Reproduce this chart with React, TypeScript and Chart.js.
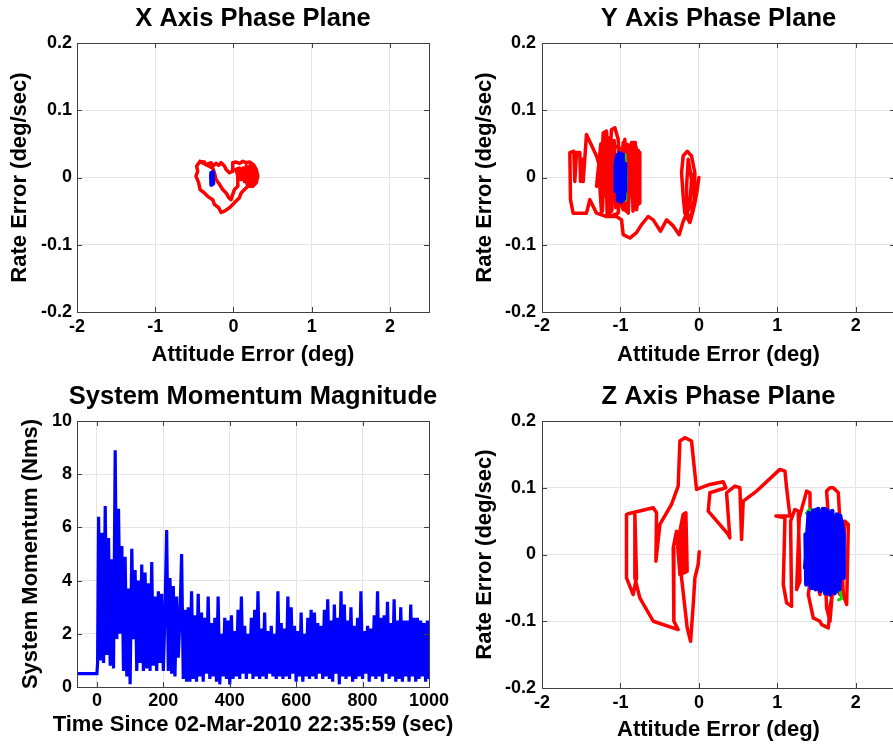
import React, { useEffect, useRef } from 'react';
import { Chart, registerables } from 'chart.js';

Chart.register(...registerables);

type Pair = [number, number];

const FONT = "'Liberation Sans', Arial, Helvetica, sans-serif";
const RED = '#ff0000';
const BLUE = '#0000ff';
const GREEN = '#00e000';
const GRID = '#e4e4e4';

// ---------- tick values ----------
const phaseAttitudeTicks = [-2, -1, 0, 1, 2];
const phaseRateTicks = [-0.2, -0.1, 0, 0.1, 0.2];
const momentumTimeTicks = [0, 200, 400, 600, 800, 1000];
const momentumValueTicks = [0, 2, 4, 6, 8, 10];

// ---------- X axis phase plane ----------
const xPlaneRed: Pair[] = [
  [-0.427, 0.024], [-0.372, 0.023], [-0.35, 0.019], [-0.286, 0.022], [-0.265, 0.017],
  [-0.222, 0.021], [-0.188, 0.018], [-0.158, 0.022], [-0.115, 0.017], [-0.094, 0.012],
  [-0.051, 0.007], [-0.017, 0.009], [-0.009, 0.022], [0.034, 0.023], [0.077, 0.021],
  [0.12, 0.024], [0.162, 0.022], [0.205, 0.023], [0.256, 0.019], [0.291, 0.012],
  [0.312, 0.002], [0.291, -0.008], [0.248, -0.013], [0.184, -0.013], [0.141, -0.018],
  [0.098, -0.023], [0.077, -0.03], [0.034, -0.035], [-0.009, -0.04], [-0.051, -0.045],
  [-0.115, -0.05], [-0.158, -0.052], [-0.188, -0.045], [-0.244, -0.04], [-0.265, -0.033],
  [-0.329, -0.028], [-0.372, -0.023], [-0.427, -0.018], [-0.444, -0.008], [-0.479, 0.002],
  [-0.457, 0.009], [-0.47, 0.017], [-0.427, 0.024],
  [-0.265, 0.014], [-0.244, 0.007], [-0.222, -0.003], [-0.179, -0.01], [-0.137, -0.018],
  [-0.094, -0.023], [-0.06, -0.03], [-0.03, -0.033], [-0.009, -0.025], [0.013, -0.018],
  [0.056, -0.013], [0.056, 0.002], [0.034, 0.012], [0.077, 0.014], [0.098, -0.003],
  [0.12, 0.014], [0.141, -0.006], [0.162, 0.017], [0.184, -0.008], [0.205, 0.017],
  [0.226, -0.008], [0.248, 0.014], [0.269, -0.006], [0.282, 0.009], [0.291, -0.0005],
  [0.27, 0.016], [0.255, -0.012], [0.235, 0.018], [0.215, -0.011], [0.195, 0.016],
  [0.175, -0.01], [0.15, 0.012], [0.2, -0.004], [0.25, 0.008], [0.3, -0.004],
];
const xPlaneBlue: Pair[] = [
  [-0.285, 0.007], [-0.262, 0.008], [-0.258, -0.009], [-0.283, -0.011], [-0.287, 0.004],
  [-0.266, 0.006], [-0.264, -0.006], [-0.28, -0.009], [-0.276, 0.006], [-0.27, -0.008],
];

// ---------- Y axis phase plane ----------
const yPlaneRed: Pair[] = [
  [0.0, 0.0], [-0.021, -0.018], [-0.051, -0.038], [-0.081, -0.053], [-0.115, -0.067],
  [-0.179, -0.053], [-0.2, -0.028], [-0.221, 0.007], [-0.2, 0.032], [-0.149, 0.039],
  [-0.094, 0.032], [-0.051, 0.007], [-0.06, -0.033], [-0.106, -0.063], [-0.149, -0.053],
  [-0.157, -0.013], [-0.136, 0.027], [-0.094, -0.003], [-0.115, -0.043], [-0.2, -0.065],
  [-0.251, -0.085], [-0.327, -0.072], [-0.412, -0.063], [-0.489, -0.08], [-0.582, -0.063],
  [-0.646, -0.058], [-0.731, -0.07], [-0.795, -0.082], [-0.88, -0.09], [-0.965, -0.085],
  [-0.986, -0.063], [-1.05, -0.058], [-1.178, -0.058], [-1.305, -0.053], [-1.39, -0.033],
  [-1.433, -0.053], [-1.603, -0.053], [-1.637, -0.033], [-1.645, 0.037], [-1.594, 0.039],
  [-1.582, -0.006], [-1.56, 0.037], [-1.518, 0.037], [-1.509, -0.006], [-1.484, 0.027],
  [-1.475, -0.006], [-1.433, 0.064], [-1.305, 0.032], [-1.241, 0.007], [-1.22, 0.066],
  [-1.178, 0.069], [-1.144, 0.007], [-1.114, 0.071], [-1.071, 0.074], [-1.029, 0.057],
  [-1.008, -0.033], [-0.965, -0.048], [-0.944, 0.057], [-0.901, -0.053], [-0.859, 0.052],
  [-0.816, 0.052], [-0.795, -0.048], [-0.753, 0.037], [-0.753, -0.038], [-0.838, -0.045],
  [-0.88, 0.047], [-0.965, 0.052], [-1.029, -0.053], [-1.135, -0.058], [-1.178, 0.052],
  [-1.22, 0.047], [-1.241, -0.053], [-1.263, -0.013], [-1.284, 0.007], [-1.305, -0.013],
  [-1.25, 0.05], [-1.23, -0.05], [-1.19, 0.065], [-1.17, -0.055], [-1.13, 0.06],
  [-1.11, -0.05], [-1.08, 0.055], [-1.06, -0.045], [-0.92, 0.045], [-0.9, -0.045],
  [-0.86, 0.05], [-0.84, -0.05], [-0.81, 0.052], [-0.79, -0.045], [-0.77, 0.04],
  [-0.76, -0.035], [-0.8, 0.045], [-0.83, -0.04], [-0.87, 0.048], [-0.93, -0.05],
  [-0.95, 0.04], [-1.12, 0.05], [-1.15, -0.04], [-1.2, 0.055], [-1.22, -0.03],
];
const yPlaneGreen: Pair[] = [[-0.94, 0.034], [-0.924, 0.0], [-0.934, -0.034]];
const yPlaneBlue: Pair[] = [
  [-1.06, 0.02], [-1.04, 0.033], [-1.03, -0.034], [-1.01, 0.036], [-0.99, -0.036],
  [-0.97, 0.034], [-0.955, -0.032], [-0.94, 0.02], [-0.94, -0.02], [-1.062, -0.02],
  [-1.06, 0.02],
];

// ---------- Z axis phase plane ----------
const zPlaneRed: Pair[] = [
  [0.004, 0.004], [-0.009, -0.015], [-0.051, -0.035], [-0.072, -0.075], [-0.106, -0.13],
  [-0.149, -0.11], [-0.221, -0.035], [-0.242, 0.035], [-0.2, 0.06], [-0.166, 0.0625],
  [-0.149, -0.025], [-0.191, -0.0275], [-0.208, 0.05], [-0.179, 0.055], [-0.166, -0.02],
  [-0.242, -0.03], [-0.285, 0.035], [-0.327, 0.01], [-0.319, -0.1], [-0.264, -0.1125],
  [-0.582, -0.1], [-0.753, -0.065], [-0.816, -0.035], [-0.816, 0.06], [-0.795, -0.035],
  [-0.838, -0.06], [-0.923, -0.035], [-0.923, 0.06], [-0.901, 0.061], [-0.582, 0.07],
  [-0.54, 0.0625], [-0.548, -0.01], [-0.497, 0.045], [-0.349, 0.075], [-0.264, 0.1025],
  [-0.242, 0.17], [-0.179, 0.175], [-0.094, 0.17], [-0.03, 0.0975], [0.14, 0.105],
  [0.31, 0.109], [0.344, 0.1], [0.14, 0.0925], [0.119, 0.065], [0.374, 0.03],
  [0.395, 0.025], [0.353, 0.0925], [0.459, 0.1025], [0.523, 0.1], [0.544, 0.0225],
  [0.565, 0.08], [0.736, 0.095], [1.033, 0.1275], [1.097, 0.125], [1.118, 0.1],
  [1.161, 0.0575], [0.982, 0.0575], [1.097, 0.055], [1.076, -0.045], [1.118, -0.0725],
  [1.182, -0.0775], [1.169, 0.05], [1.224, 0.0675], [1.267, 0.065], [1.288, -0.04],
  [1.246, -0.0525], [1.28, 0.055], [1.373, 0.095], [1.416, 0.0925], [1.424, -0.035],
  [1.395, -0.06], [1.458, -0.095], [1.543, -0.1], [1.565, -0.105], [1.65, -0.11],
  [1.671, -0.08], [1.713, -0.05], [1.628, 0.095], [1.671, 0.1], [1.713, 0.1],
  [1.777, 0.0925], [1.798, 0.05], [1.841, -0.06], [1.884, -0.075], [1.905, 0.045],
  [1.862, 0.05], [1.798, -0.06], [1.713, -0.04], [1.671, -0.1], [1.628, -0.08],
  [1.586, 0.05], [1.543, -0.06], [1.501, -0.04],
];
const zPlaneGreen: Pair[] = [
  [1.37, 0.062], [1.41, 0.068], [1.39, 0.05], [1.62, -0.03], [1.8, -0.055],
  [1.82, -0.066], [1.78, -0.068],
];
const zPlaneBlue: Pair[] = [
  [1.36, 0.03], [1.37, -0.045], [1.4, 0.06], [1.43, -0.05], [1.46, 0.066],
  [1.49, -0.052], [1.52, 0.068], [1.55, -0.055], [1.58, 0.068], [1.61, -0.058],
  [1.64, 0.066], [1.67, -0.06], [1.7, 0.064], [1.73, -0.058], [1.76, 0.06],
  [1.79, -0.052], [1.82, 0.05], [1.84, -0.035], [1.845, 0.03], [1.8, 0.058],
  [1.75, -0.055], [1.7, 0.065], [1.65, -0.058], [1.6, 0.068], [1.55, -0.054],
  [1.5, 0.067], [1.45, -0.05], [1.4, 0.062], [1.355, -0.02],
];

// ---------- System momentum magnitude ----------
const momentumTime = [
  -60, 0, 2, 5, 10, 15, 20, 25, 30, 35, 40, 45, 50, 55, 60, 65, 70, 75, 80, 85, 90, 95,
  100, 105, 110, 115, 120, 125, 130, 135, 140, 145, 150, 155, 160, 165, 170, 175, 180, 185, 190, 195,
  200, 205, 210, 215, 220, 225, 230, 235, 240, 245, 250, 255, 260, 265, 270, 275, 280, 285, 290, 295,
  300, 305, 310, 315, 320, 325, 330, 335, 340, 345, 350, 355, 360, 365, 370, 375, 380, 385, 390, 395,
  400, 405, 410, 415, 420, 425, 430, 435, 440, 445, 450, 455, 460, 465, 470, 475, 480, 485, 490, 495,
  500, 505, 510, 515, 520, 525, 530, 535, 540, 545, 550, 555, 560, 565, 570, 575, 580, 585, 590, 595,
  600, 605, 610, 615, 620, 625, 630, 635, 640, 645, 650, 655, 660, 665, 670, 675, 680, 685, 690, 695,
  700, 705, 710, 715, 720, 725, 730, 735, 740, 745, 750, 755, 760, 765, 770, 775, 780, 785, 790, 795,
  800, 805, 810, 815, 820, 825, 830, 835, 840, 845, 850, 855, 860, 865, 870, 875, 880, 885, 890, 895,
  900, 905, 910, 915, 920, 925, 930, 935, 940, 945, 950, 955, 960, 965, 970, 975, 980, 985, 990, 995,
  1000,
];
const momentumValue = [
  0.5, 0.5, 0.9, 6.4, 1.0, 5.8, 0.9, 6.8, 1.2, 5.6, 0.8, 4.8, 0.7, 8.9, 1.8, 6.7, 2.0, 5.3, 0.6, 4.9, 0.4, 3.7,
  0.1, 5.2, 1.8, 4.4, 0.6, 4.0, 0.9, 4.6, 0.6, 4.3, 0.7, 3.9, 0.6, 4.7, 0.8, 3.4, 0.6, 3.6, 0.9, 3.5,
  0.6, 2.8, 5.9, 0.6, 4.1, 0.5, 3.8, 0.4, 3.4, 1.1, 2.6, 5.0, 0.3, 2.9, 0.2, 3.0, 0.2, 3.6, 0.3, 2.7,
  0.2, 3.5, 0.4, 2.8, 0.2, 2.6, 0.5, 3.4, 0.3, 2.4, 0.4, 2.6, 0.2, 3.4, 0.1, 2.0, 0.4, 2.6, 0.3, 2.5,
  0.1, 2.7, 0.3, 2.1, 0.4, 2.9, 0.3, 3.4, 0.5, 2.3, 0.3, 2.0, 0.5, 2.6, 0.3, 2.9, 0.4, 3.6, 0.3, 2.2,
  0.4, 2.8, 0.3, 2.1, 0.5, 2.3, 0.4, 2.0, 0.3, 3.6, 0.4, 2.4, 0.3, 2.2, 0.4, 3.4, 0.3, 3.0, 0.5, 2.3,
  0.2, 2.1, 0.4, 2.8, 0.2, 2.0, 0.4, 2.6, 0.3, 2.9, 0.4, 2.8, 0.3, 2.4, 0.5, 2.3, 0.3, 2.9, 0.4, 3.3,
  0.3, 2.5, 0.2, 3.1, 0.5, 2.6, 0.1, 3.6, 0.4, 3.1, 0.3, 2.5, 0.4, 3.0, 0.2, 2.3, 0.3, 2.6, 0.4, 3.6,
  0.3, 2.1, 0.5, 2.3, 0.2, 2.2, 0.4, 2.7, 0.3, 3.6, 0.4, 2.6, 0.2, 2.7, 0.5, 3.2, 0.3, 2.4, 0.4, 3.3,
  0.2, 2.5, 0.3, 3.0, 0.2, 2.5, 0.4, 2.5, 0.2, 3.1, 0.4, 2.6, 0.2, 2.6, 0.3, 2.5, 0.4, 2.4, 0.2, 2.5,
  0.3,
];
const momentumPoints: Pair[] = momentumTime.map((t, i) => [t, momentumValue[i]]);

// ---------- chart plumbing ----------
type Series = { points: Pair[]; color: string; width: number };
type Geo = {
  left: number; top: number; w: number; h: number;
  plotTop: number; titleY: number; xTitleY: number;
  yWidth: number; xHeight: number; padRight: number;
  xTickPad: number; yTickPad: number; yTitleTop: number;
};
type Spec = {
  title: string; xTitle: string; yTitle: string;
  xMin: number; xMax: number; yMin: number; yMax: number;
  xTicks: number[]; yTicks: number[];
  series: Series[]; geo: Geo; joinRound: boolean;
};

const boxPlugin = {
  id: 'matlabBox',
  afterDraw(chart: any) {
    const { ctx, chartArea: a, scales } = chart;
    const L = 5;
    ctx.save();
    ctx.strokeStyle = '#404040';
    ctx.lineWidth = 1;
    ctx.beginPath();
    for (const t of scales.x.ticks) {
      const px = Math.round(scales.x.getPixelForValue(t.value)) + 0.5;
      ctx.moveTo(px, a.bottom); ctx.lineTo(px, a.bottom - L);
      ctx.moveTo(px, a.top); ctx.lineTo(px, a.top + L);
    }
    for (const t of scales.y.ticks) {
      const py = Math.round(scales.y.getPixelForValue(t.value)) + 0.5;
      ctx.moveTo(a.left, py); ctx.lineTo(a.left + L, py);
      ctx.moveTo(a.right, py); ctx.lineTo(a.right - L, py);
    }
    ctx.stroke();
    ctx.strokeRect(Math.round(a.left) + 0.5, Math.round(a.top) + 0.5,
      Math.round(a.right) - Math.round(a.left), Math.round(a.bottom) - Math.round(a.top));
    ctx.restore();
  },
};

// Title and x-axis label, centred on the plot box, drawn at full width (MATLAB lets them overhang).
const labelPlugin = {
  id: 'panelLabels',
  afterDraw(chart: any, _args: any, opts: any) {
    const { ctx, chartArea: a } = chart;
    const cx = (a.left + a.right) / 2;
    ctx.save();
    ctx.fillStyle = '#000';
    ctx.textAlign = 'center';
    ctx.textBaseline = 'middle';
    ctx.font = `bold 25.5px ${FONT}`;
    ctx.fillText(opts.title, cx, opts.titleY);
    ctx.font = `bold 22px ${FONT}`;
    ctx.fillText(opts.xTitle, cx, opts.xTitleY);
    ctx.restore();
  },
};

const tickFont = { family: FONT, size: 18, weight: 'bold' as const, lineHeight: 1 };
const yAxisFont = { family: FONT, size: 22, weight: 'bold' as const, lineHeight: 1 };

function Panel({ spec }: { spec: Spec }) {
  const ref = useRef<HTMLCanvasElement>(null);
  const g = spec.geo;
  useEffect(() => {
    const chart = new Chart(ref.current as HTMLCanvasElement, {
      type: 'scatter',
      data: {
        datasets: spec.series.map((s) => ({
          data: s.points.map(([x, y]) => ({ x, y })),
          showLine: true,
          borderColor: s.color,
          backgroundColor: s.color,
          borderWidth: s.width,
          pointRadius: 0,
          pointHoverRadius: 0,
          fill: false,
          tension: 0,
          borderJoinStyle: spec.joinRound ? 'round' : 'miter',
          borderCapStyle: spec.joinRound ? 'round' : 'butt',
        })),
      },
      options: {
        responsive: false,
        animation: false,
        events: [],
        layout: { padding: { left: 0, top: g.plotTop, bottom: 0, right: g.padRight } },
        plugins: {
          legend: { display: false },
          tooltip: { enabled: false },
          title: { display: false },
          panelLabels: { title: spec.title, xTitle: spec.xTitle, titleY: g.titleY, xTitleY: g.xTitleY },
        },
        scales: {
          x: {
            type: 'linear', min: spec.xMin, max: spec.xMax,
            afterFit: (s: any) => { s.height = g.xHeight; },
            afterBuildTicks: (s: any) => { s.ticks = spec.xTicks.map((v) => ({ value: v })); },
            grid: { color: GRID, drawTicks: false },
            border: { display: false },
            ticks: {
              color: '#000', padding: g.xTickPad, font: tickFont, maxRotation: 0,
              autoSkip: false, callback: (v: any) => String(v),
            },
            title: { display: false },
          },
          y: {
            type: 'linear', min: spec.yMin, max: spec.yMax,
            afterFit: (s: any) => { s.width = g.yWidth; },
            afterBuildTicks: (s: any) => { s.ticks = spec.yTicks.map((v) => ({ value: v })); },
            grid: { color: GRID, drawTicks: false },
            border: { display: false },
            ticks: {
              color: '#000', padding: g.yTickPad, font: tickFont,
              autoSkip: false, callback: (v: any) => String(v),
            },
            title: {
              display: true, text: spec.yTitle, color: '#000', font: yAxisFont,
              padding: { top: g.yTitleTop, bottom: 0 },
            },
          },
        },
      } as any,
      plugins: [boxPlugin, labelPlugin],
    });
    return () => chart.destroy();
  }, [spec]);
  return (
    <canvas
      ref={ref}
      width={g.w}
      height={g.h}
      style={{ position: 'absolute', left: g.left, top: g.top, width: g.w, height: g.h }}
    />
  );
}

const specs: Spec[] = [
  {
    title: 'X Axis Phase Plane', xTitle: 'Attitude Error (deg)', yTitle: 'Rate Error (deg/sec)',
    xMin: -2, xMax: 2.5, yMin: -0.2, yMax: 0.2, xTicks: phaseAttitudeTicks, yTicks: phaseRateTicks,
    joinRound: true,
    series: [
      { points: xPlaneBlue, color: BLUE, width: 4 },
      { points: xPlaneRed, color: RED, width: 3.5 },
    ],
    geo: { left: 0, top: 0, w: 448, h: 372, plotTop: 43, titleY: 19, xTitleY: 355, yWidth: 77,
      xHeight: 60, padRight: 19, xTickPad: 6, yTickPad: 5, yTitleTop: 9 },
  },
  {
    title: 'Y Axis Phase Plane', xTitle: 'Attitude Error (deg)', yTitle: 'Rate Error (deg/sec)',
    xMin: -2, xMax: 2.5, yMin: -0.2, yMax: 0.2, xTicks: phaseAttitudeTicks, yTicks: phaseRateTicks,
    joinRound: true,
    series: [
      { points: yPlaneBlue, color: BLUE, width: 4.5 },
      { points: yPlaneGreen, color: GREEN, width: 3 },
      { points: yPlaneRed, color: RED, width: 3.5 },
    ],
    geo: { left: 450, top: 0, w: 460, h: 372, plotTop: 43, titleY: 19, xTitleY: 355, yWidth: 92,
      xHeight: 60, padRight: 15, xTickPad: 5, yTickPad: 6, yTitleTop: 24 },
  },
  {
    title: 'System Momentum Magnitude', xTitle: 'Time Since 02-Mar-2010 22:35:59 (sec)',
    yTitle: 'System Momentum (Nms)',
    xMin: -60, xMax: 1000, yMin: 0, yMax: 10, xTicks: momentumTimeTicks, yTicks: momentumValueTicks,
    joinRound: false,
    series: [{ points: momentumPoints, color: BLUE, width: 3.2 }],
    geo: { left: 0, top: 372, w: 460, h: 372, plotTop: 49, titleY: 25, xTitleY: 353, yWidth: 77,
      xHeight: 57, padRight: 31, xTickPad: 5, yTickPad: 5, yTitleTop: 20 },
  },
  {
    title: 'Z Axis Phase Plane', xTitle: 'Attitude Error (deg)', yTitle: 'Rate Error (deg/sec)',
    xMin: -2, xMax: 2.5, yMin: -0.2, yMax: 0.2, xTicks: phaseAttitudeTicks, yTicks: phaseRateTicks,
    joinRound: true,
    series: [
      { points: zPlaneBlue, color: BLUE, width: 4.5 },
      { points: zPlaneGreen, color: GREEN, width: 3 },
      { points: zPlaneRed, color: RED, width: 3.5 },
    ],
    geo: { left: 450, top: 372, w: 460, h: 372, plotTop: 49, titleY: 25, xTitleY: 358, yWidth: 92,
      xHeight: 56, padRight: 15, xTickPad: 6, yTickPad: 6, yTitleTop: 24 },
  },
];

export default function App() {
  return (
    <div
      style={{
        position: 'absolute', left: 0, top: 0, width: 893, height: 744,
        overflow: 'hidden', background: '#fff',
      }}
    >
      {specs.map((s) => (
        <Panel key={s.title} spec={s} />
      ))}
    </div>
  );
}
